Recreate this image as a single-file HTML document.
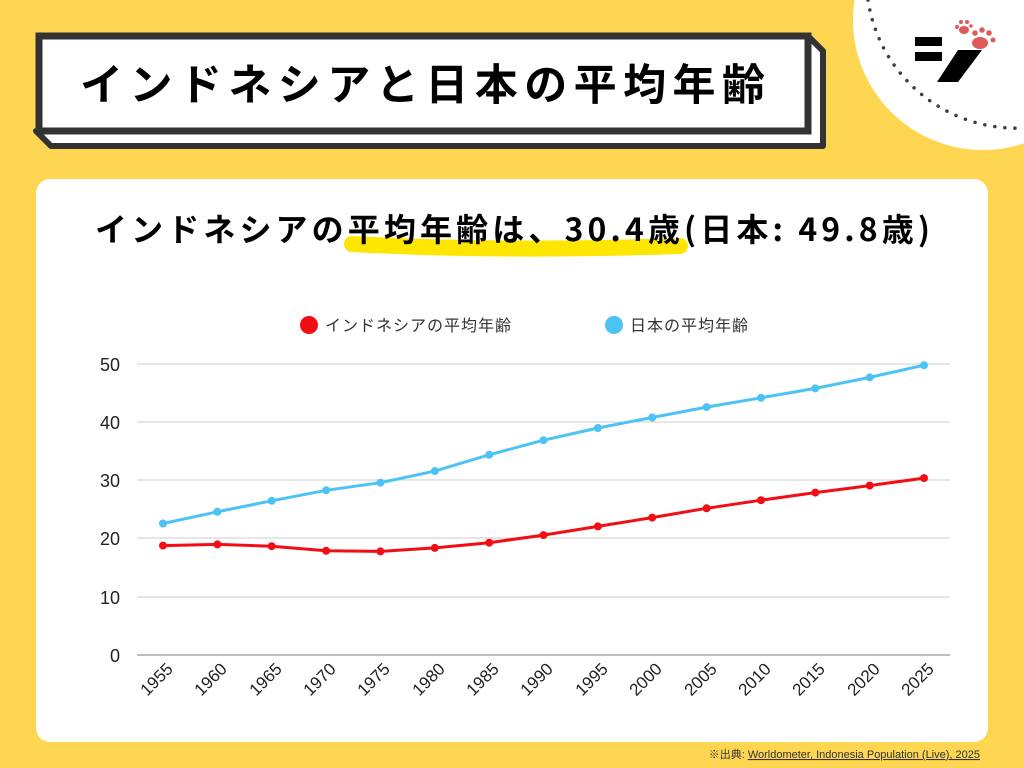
<!DOCTYPE html>
<html><head><meta charset="utf-8"><style>
body{margin:0;width:1024px;height:768px;background:#FED652;position:relative;overflow:hidden;font-family:"Liberation Sans","Noto Sans CJK JP",sans-serif}
.circ{position:absolute;left:853px;top:-110px;width:260px;height:260px;border-radius:50%;background:#fff}
.card{position:absolute;left:36px;top:179px;width:952px;height:563px;background:#fff;border-radius:14px}
</style></head><body>
<div class="circ"></div>
<svg width="1024" height="768" style="position:absolute;left:0;top:0">
<path d="M868 0 A150 150 0 0 0 1024 128" fill="none" stroke="#3b3f4a" stroke-width="3.5" stroke-dasharray="0.1 10" stroke-linecap="round"/>
<rect x="915" y="37" width="27" height="9" fill="#000"/>
<rect x="915" y="52" width="27" height="9" fill="#000"/>
<polygon points="958,50 982,50 958,82 937,82" fill="#000"/>
<g fill="#e05a5a"><ellipse cx="980" cy="43" rx="8" ry="6"/><circle cx="975" cy="33" r="2.8"/><circle cx="982" cy="30" r="2.8"/><circle cx="989" cy="33" r="2.8"/><circle cx="993" cy="40" r="2.5"/>
<ellipse cx="964" cy="30" rx="5" ry="4"/><circle cx="957" cy="27" r="2"/><circle cx="961" cy="22" r="2"/><circle cx="967" cy="22" r="2"/><circle cx="971" cy="26" r="1.8"/></g>
<polygon points="808,36 823,51 823,146 51,146 36,131 808,131" fill="#fff" stroke="#333" stroke-width="6" stroke-linejoin="round"/>
<rect x="39" y="36" width="769" height="95" fill="#fff" stroke="#333" stroke-width="7"/>
<text x="80" y="100" textLength="685" lengthAdjust="spacing" font-size="43" font-weight="bold" font-family="'Noto Sans CJK JP',sans-serif" fill="#000">インドネシアと日本の平均年齢</text>
</svg>
<div class="card"></div>
<svg width="1024" height="768" style="position:absolute;left:0;top:0">
<path d="M352 244 Q500 252 680 246" stroke="#FFE600" stroke-width="16" fill="none" stroke-linecap="round"/>
<text x="95" y="241" textLength="835" lengthAdjust="spacing" font-size="32" font-weight="bold" font-family="'Noto Sans CJK JP',sans-serif" fill="#000">インドネシアの平均年齢は、30.4歳(日本: 49.8歳)</text>
<circle cx="309" cy="325" r="9" fill="#f20d15"/>
<text x="325" y="331" font-size="16" fill="#333" font-family="'Noto Sans CJK JP',sans-serif" letter-spacing="1">インドネシアの平均年齢</text>
<circle cx="614" cy="325" r="9" fill="#4cc3f5"/>
<text x="630" y="331" font-size="16" fill="#333" font-family="'Noto Sans CJK JP',sans-serif" letter-spacing="1">日本の平均年齢</text>
<g stroke="#ccc" stroke-width="1"><line x1="137" x2="950" y1="364" y2="364"/><line x1="137" x2="950" y1="422" y2="422"/><line x1="137" x2="950" y1="480" y2="480"/><line x1="137" x2="950" y1="538" y2="538"/><line x1="137" x2="950" y1="597" y2="597"/></g>
<line x1="137" x2="950" y1="655" y2="655" stroke="#aaa" stroke-width="1.5"/>
<g font-size="18" fill="#222" text-anchor="end" font-family="'Liberation Sans',sans-serif"><text x="120" y="371">50</text><text x="120" y="429">40</text><text x="120" y="487">30</text><text x="120" y="545">20</text><text x="120" y="604">10</text><text x="120" y="662">0</text></g>
<g font-size="17" fill="#222" text-anchor="end" font-family="'Liberation Sans',sans-serif">
<text transform="translate(174,670) rotate(-45)">1955</text><text transform="translate(228,670) rotate(-45)">1960</text><text transform="translate(283,670) rotate(-45)">1965</text><text transform="translate(337,670) rotate(-45)">1970</text><text transform="translate(391,670) rotate(-45)">1975</text><text transform="translate(446,670) rotate(-45)">1980</text><text transform="translate(500,670) rotate(-45)">1985</text><text transform="translate(554,670) rotate(-45)">1990</text><text transform="translate(609,670) rotate(-45)">1995</text><text transform="translate(663,670) rotate(-45)">2000</text><text transform="translate(718,670) rotate(-45)">2005</text><text transform="translate(772,670) rotate(-45)">2010</text><text transform="translate(826,670) rotate(-45)">2015</text><text transform="translate(881,670) rotate(-45)">2020</text><text transform="translate(935,670) rotate(-45)">2025</text></g>
<polyline fill="none" stroke="#4cc3f5" stroke-width="3" points="163,523.5 217.4,511.8 271.7,500.8 326.1,490.3 380.4,482.7 434.8,471.1 489.2,454.8 543.5,440.2 597.9,428 652.2,417.5 706.6,407.1 761,397.8 815.3,388.4 869.7,377.4 924,365.2"/>
<g fill="#4cc3f5"><circle cx="163" cy="523.5" r="4"/><circle cx="217.4" cy="511.8" r="4"/><circle cx="271.7" cy="500.8" r="4"/><circle cx="326.1" cy="490.3" r="4"/><circle cx="380.4" cy="482.7" r="4"/><circle cx="434.8" cy="471.1" r="4"/><circle cx="489.2" cy="454.8" r="4"/><circle cx="543.5" cy="440.2" r="4"/><circle cx="597.9" cy="428" r="4"/><circle cx="652.2" cy="417.5" r="4"/><circle cx="706.6" cy="407.1" r="4"/><circle cx="761" cy="397.8" r="4"/><circle cx="815.3" cy="388.4" r="4"/><circle cx="869.7" cy="377.4" r="4"/><circle cx="924" cy="365.2" r="4"/></g>
<polyline fill="none" stroke="#f20d15" stroke-width="3" points="163,545.6 217.4,544.4 271.7,546.2 326.1,550.8 380.4,551.4 434.8,547.9 489.2,542.7 543.5,535.1 597.9,526.4 652.2,517.6 706.6,508.3 761,500.2 815.3,492.6 869.7,485.6 924,478.1"/>
<g fill="#f20d15"><circle cx="163" cy="545.6" r="4"/><circle cx="217.4" cy="544.4" r="4"/><circle cx="271.7" cy="546.2" r="4"/><circle cx="326.1" cy="550.8" r="4"/><circle cx="380.4" cy="551.4" r="4"/><circle cx="434.8" cy="547.9" r="4"/><circle cx="489.2" cy="542.7" r="4"/><circle cx="543.5" cy="535.1" r="4"/><circle cx="597.9" cy="526.4" r="4"/><circle cx="652.2" cy="517.6" r="4"/><circle cx="706.6" cy="508.3" r="4"/><circle cx="761" cy="500.2" r="4"/><circle cx="815.3" cy="492.6" r="4"/><circle cx="869.7" cy="485.6" r="4"/><circle cx="924" cy="478.1" r="4"/></g>
<text x="980" y="758" text-anchor="end" font-size="11" fill="#333" font-family="'Liberation Sans','Noto Sans CJK JP',sans-serif">※出典: <tspan text-decoration="underline">Worldometer, Indonesia Population (Live), 2025</tspan></text>
</svg>
</body></html>
